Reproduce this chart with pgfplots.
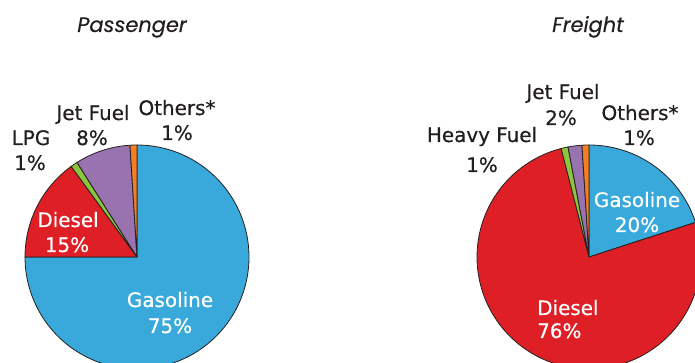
\documentclass[border=0pt]{standalone}
\usepackage{fontspec}
\setmainfont{DejaVu Sans}[FakeBold=0.5]
\newfontfamily\titlefont{Poppins}[FakeBold=0.4]
\usepackage{pgfplots}
\pgfplotsset{compat=1.18}
\definecolor{cgas}{HTML}{39A9DB}
\definecolor{cdie}{HTML}{DF1F26}
\definecolor{cgrn}{HTML}{8CC63F}
\definecolor{cjet}{HTML}{9873B0}
\definecolor{coth}{HTML}{F47E20}
\definecolor{ctxt}{HTML}{231F20}
\tikzset{
  lab/.style={font=\fontsize{20}{22}\selectfont, text=ctxt, anchor=base, inner sep=0pt},
  wlab/.style={font=\fontsize{20}{22}\selectfont, text=white, anchor=base, inner sep=0pt},
  ttl/.style={font=\titlefont\itshape\fontsize{21}{23}\selectfont, text=ctxt, anchor=base, inner sep=0pt},
}
% cx, cy, cumulative start (percent), share (percent), colour
\newcommand\pieslice[5]{%
  \pgfmathsetmacro\wa{90-3.6*(#3+#4)}%
  \pgfmathsetmacro\wb{90-3.6*(#3)}%
  \addplot[fill=#5, draw=ctxt, line width=0.8pt, line join=round,
    domain=\wa:\wb, samples=120, variable=\t]
    ({#1+112*cos(\t)},{#2+112*sin(\t)}) -- (axis cs:#1,#2) -- cycle;
}
\begin{document}
\begin{tikzpicture}
\useasboundingbox (0,0) rectangle (695bp,363bp);
\begin{axis}[
  at={(0,0)}, anchor=south west,
  width=695bp, height=363bp, scale only axis,
  xmin=0, xmax=695, ymin=0, ymax=363,
  hide axis, clip=true,
]
% Passenger: Gasoline 75, Diesel 15, LPG 1, Jet Fuel 8, Others 1
\pieslice{137}{106}{0}{75}{cgas}
\pieslice{137}{106}{75}{15}{cdie}
\pieslice{137}{106}{90}{1}{cgrn}
\pieslice{137}{106}{91}{8}{cjet}
\pieslice{137}{106}{99}{1}{coth}
% Freight: Gasoline 20, Diesel 76, Heavy Fuel 1, Jet Fuel 2, Others 1
\pieslice{589}{106}{0}{20}{cgas}
\pieslice{589}{106}{20}{76}{cdie}
\pieslice{589}{106}{96}{1}{cgrn}
\pieslice{589}{106}{97}{2}{cjet}
\pieslice{589}{106}{99}{1}{coth}

\node[ttl] at (axis cs:132,331) {Passenger};
\node[ttl] at (axis cs:588,331) {Freight};

\node[lab] at (axis cs:177,248) {Others*};
\node[lab] at (axis cs:177,223) {1\%};
\node[lab] at (axis cs:93,243) {Jet Fuel};
\node[lab] at (axis cs:92,218) {8\%};
\node[lab] at (axis cs:31,218) {LPG};
\node[lab] at (axis cs:30,193) {1\%};
\node[wlab] at (axis cs:68,136) {Diesel};
\node[wlab] at (axis cs:67,111) {15\%};
\node[wlab] at (axis cs:170,56) {Gasoline};
\node[wlab] at (axis cs:170,30) {75\%};

\node[lab] at (axis cs:563,264) {Jet Fuel};
\node[lab] at (axis cs:561,238) {2\%};
\node[lab] at (axis cs:640,243) {Others*};
\node[lab] at (axis cs:639,218) {1\%};
\node[lab] at (axis cs:482,221) {Heavy Fuel};
\node[lab] at (axis cs:482,191) {1\%};
\node[wlab] at (axis cs:637,156) {Gasoline};
\node[wlab] at (axis cs:637,131) {20\%};
\node[wlab, anchor=base west] at (axis cs:537,48) {Diesel};
\node[wlab, anchor=base west] at (axis cs:537,25) {76\%};
\end{axis}
\end{tikzpicture}
\end{document}
